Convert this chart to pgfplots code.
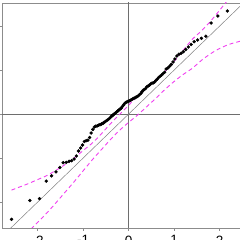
\documentclass[border=0pt]{standalone}
\usepackage{fontspec}
\setmainfont{Liberation Sans}
\usepackage{pgfplots}
\pgfplotsset{compat=1.18}
\definecolor{boxgray}{HTML}{8C8C8C}
\definecolor{refgray}{HTML}{6E6E6E}
\definecolor{envmag}{HTML}{F040F0}
\begin{document}
\begin{tikzpicture}
\begin{axis}[
  x=45.5pt, y=44pt,
  xmin=-2.782, xmax=2.782, ymin=-2.591, ymax=2.523,
  axis line style={boxgray, line width=0.9pt},
  xtick={-2,-1,0,1,2}, ytick={-2,-1,0,1,2},
  yticklabels={},
  tick align=outside, major tick length=3pt,
  tick style={boxgray, line width=0.8pt},
  xtick pos=bottom, ytick pos=left,
  /pgf/number format/assume math mode=true,
  xticklabel style={font=\fontsize{13.5}{13.5}\selectfont, inner sep=0pt, anchor=north, yshift=-4.5pt},
  clip=true,
]
\addplot[refgray, line width=0.6pt] coordinates {(0,-3) (0,3)};
\addplot[refgray, line width=0.6pt] coordinates {(-3,0) (3,0)};
\addplot[gray, line width=0.5pt] coordinates {(-3,-3) (3,3)};
\addplot[envmag, line width=0.9pt, dash pattern=on 4pt off 3pt, smooth] coordinates {
(-2.576,-1.73) (-2.4,-1.66) (-2.2,-1.58) (-2.0,-1.49) (-1.8,-1.40) (-1.6,-1.28)
(-1.4,-1.15) (-1.2,-1.00) (-1.0,-0.83) (-0.8,-0.66) (-0.6,-0.45) (-0.4,-0.22)
(-0.2,-0.01) (0.0,0.20) (0.2,0.41) (0.4,0.61) (0.6,0.78) (0.8,0.97) (1.0,1.20)
(1.2,1.45) (1.4,1.70) (1.6,1.89) (1.8,2.11) (2.0,2.36) (2.2,2.62) (2.4,2.90) (2.576,3.15)};
\addplot[envmag, line width=0.9pt, dash pattern=on 4pt off 3pt, smooth] coordinates {
(-2.576,-3.07) (-2.4,-2.88) (-2.2,-2.67) (-2.0,-2.46) (-1.8,-2.25) (-1.6,-2.02)
(-1.4,-1.78) (-1.2,-1.54) (-1.0,-1.29) (-0.8,-1.04) (-0.6,-0.81) (-0.4,-0.58)
(-0.2,-0.37) (0.0,-0.19) (0.2,-0.02) (0.4,0.17) (0.6,0.36) (0.8,0.56) (1.0,0.74)
(1.2,0.90) (1.4,1.04) (1.6,1.22) (1.8,1.37) (2.0,1.49) (2.2,1.58) (2.4,1.64) (2.576,1.69)};
\addplot[only marks, mark=*, mark size=1.5pt, black] table {
x y
-2.5758 -2.393
-2.1701 -1.966
-1.9600 -1.925
-1.8119 -1.527
-1.6954 -1.405
-1.5982 -1.314
-1.5141 -1.216
-1.4395 -1.107
-1.3722 -1.098
-1.3106 -1.075
-1.2536 -1.061
-1.2004 -1.023
-1.1503 -0.955
-1.1031 -0.841
-1.0581 -0.773
-1.0152 -0.705
-0.9741 -0.625
-0.9346 -0.607
-0.8965 -0.595
-0.8596 -0.534
-0.8239 -0.432
-0.7892 -0.352
-0.7554 -0.295
-0.7225 -0.277
-0.6903 -0.268
-0.6588 -0.255
-0.6280 -0.241
-0.5978 -0.227
-0.5681 -0.214
-0.5388 -0.189
-0.5101 -0.170
-0.4817 -0.148
-0.4538 -0.125
-0.4261 -0.102
-0.3989 -0.075
-0.3719 -0.045
-0.3451 -0.023
-0.3186 0.000
-0.2924 0.023
-0.2663 0.045
-0.2404 0.068
-0.2147 0.091
-0.1891 0.114
-0.1637 0.136
-0.1383 0.170
-0.1130 0.205
-0.0878 0.239
-0.0627 0.261
-0.0376 0.277
-0.0125 0.289
0.0125 0.300
0.0376 0.311
0.0627 0.327
0.0878 0.341
0.1130 0.355
0.1383 0.366
0.1637 0.386
0.1891 0.398
0.2147 0.418
0.2404 0.443
0.2663 0.466
0.2924 0.505
0.3186 0.541
0.3451 0.557
0.3719 0.580
0.3989 0.618
0.4261 0.636
0.4538 0.655
0.4817 0.682
0.5101 0.698
0.5388 0.709
0.5681 0.727
0.5978 0.761
0.6280 0.795
0.6588 0.830
0.6903 0.859
0.7225 0.886
0.7554 0.920
0.7892 0.950
0.8239 1.023
0.8596 1.045
0.8965 1.080
0.9346 1.125
0.9741 1.182
1.0152 1.250
1.0581 1.318
1.1031 1.359
1.1503 1.380
1.2004 1.416
1.2536 1.466
1.3106 1.523
1.3722 1.580
1.4395 1.643
1.5141 1.682
1.5982 1.720
1.6954 1.768
1.8119 2.068
1.9600 2.227
2.1701 2.341
2.5758 2.350
};
\coordinate (bl) at (axis cs:-2.8286,-2.8636);
\coordinate (tr) at (axis cs:2.4462,2.5909);
\end{axis}
\pgfresetboundingbox
\path[use as bounding box] (bl) rectangle (tr);
\end{tikzpicture}
\end{document}
